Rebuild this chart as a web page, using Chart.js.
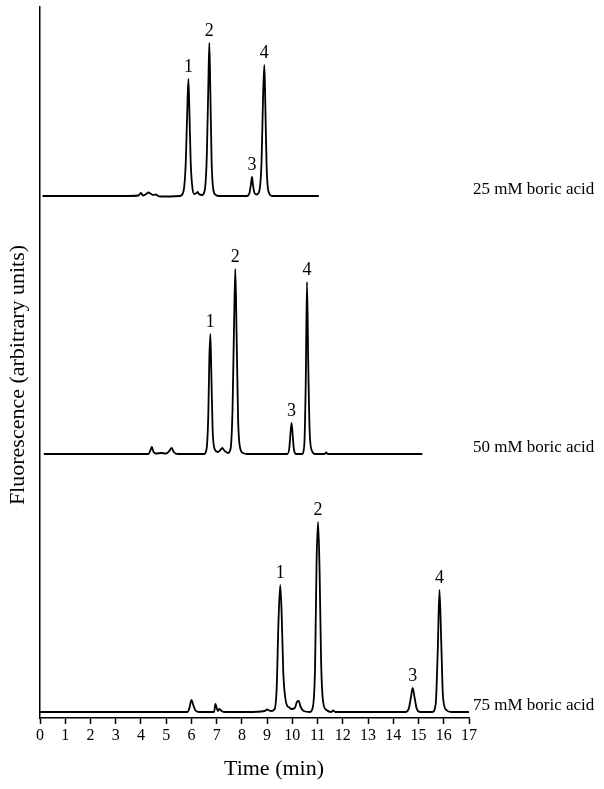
<!DOCTYPE html>
<html>
<head>
<meta charset="utf-8">
<script src="https://cdn.jsdelivr.net/npm/chart.js@4/dist/chart.umd.min.js"></script>
<style>
  html, body { margin: 0; padding: 0; background: #fff; }
  canvas { display: block; }
</style>
</head>
<body>
<canvas id="chart" width="604" height="789"></canvas>
<script>
// electropherograms: time (min) and fluorescence above baseline (arb. units)
const times25 = [0.1, 3.5, 3.9, 4.0, 4.08, 4.18, 4.3, 4.38, 4.48, 4.6, 4.68, 4.8,
  5.55, 5.68, 5.77, 5.83, 5.88, 5.92, 5.97, 6.04, 6.12,
  6.2, 6.25, 6.3, 6.42, 6.53, 6.61, 6.67, 6.71, 6.75, 6.8, 6.87, 6.97, 7.1,
  8.2, 8.3, 8.36, 8.4, 8.44, 8.5, 8.58, 8.68, 8.78, 8.84, 8.89, 8.93, 8.98, 9.05, 9.2, 11.05];
const signal25 = [0, 0, 0.5, 3, 0.5, 1.5, 3.5, 2.5, 1, 1.5, 0, -0.5,
  0, 4, 30, 80, 117, 85, 35, 8, 2,
  3, 4, 2, 1, 6, 40, 110, 153, 105, 35, 6, 1, 0,
  0, 3, 12, 19, 11, 3, 1.5, 4, 35, 100, 131, 90, 30, 5, 0, 0];

const times50 = [0.15, 4.3, 4.38, 4.43, 4.5, 4.6, 4.8, 5.0, 5.12, 5.22, 5.3, 5.45,
  6.5, 6.6, 6.67, 6.71, 6.75, 6.79, 6.84, 6.92, 7.05, 7.15, 7.22, 7.32, 7.45,
  7.55, 7.63, 7.69, 7.74, 7.79, 7.85, 7.93, 8.05, 8.2,
  9.8, 9.88, 9.93, 9.97, 10.01, 10.06, 10.15,
  10.38, 10.47, 10.53, 10.58, 10.63, 10.69, 10.78, 10.9,
  11.28, 11.34, 11.4, 15.15];
const signal50 = [0, 0, 4, 7, 2, 0.5, 1, 0.5, 3, 6, 2, 0,
  0, 5, 40, 95, 120, 80, 25, 5, 2, 4, 6, 3, 1,
  5, 45, 130, 185, 120, 35, 6, 1, 0,
  0, 6, 22, 31, 20, 5, 0,
  0, 8, 70, 172, 90, 20, 3, 0,
  0, 1.5, 0, 0];

const times75 = [0, 5.85, 5.93, 6.0, 6.06, 6.15, 6.3,
  6.9, 6.95, 6.99, 7.05, 7.1, 7.16, 7.22, 7.35,
  8.2, 8.9, 9.0, 9.08, 9.18, 9.3, 9.38, 9.45, 9.52, 9.58, 9.64, 9.72, 9.8, 9.86, 9.95,
  10.1, 10.18, 10.25, 10.33, 10.45,
  10.7, 10.82, 10.9, 10.96, 11.02, 11.08, 11.14, 11.22, 11.35,
  11.55, 11.62, 11.7,
  14.5, 14.62, 14.7, 14.77, 14.84, 14.92, 15.05,
  15.55, 15.68, 15.76, 15.83, 15.9, 15.97, 16.1, 16.3, 17.1];
const signal75 = [0, 0, 5, 12, 8, 2, 0,
  0, 8, 5, 1, 3, 2, 0.5, 0,
  0, 1, 2.5, 1.5, 1, 3, 25, 90, 127, 95, 40, 14, 6, 5, 3,
  4, 10, 11, 5, 1,
  0, 6, 45, 150, 190, 140, 50, 10, 2,
  0, 1.5, 0,
  0, 4, 15, 24, 15, 4, 0,
  0, 8, 60, 122, 70, 15, 2, 0, 0];

const peakNames = ['1', '2', '3', '4'];
const peakTimes25 = [5.88, 6.71, 8.4, 8.89];
const peakTimes50 = [6.75, 7.74, 9.97, 10.58];
const peakTimes75 = [9.52, 11.02, 14.77, 15.83];

const traceLabels = ['25 mM boric acid', '50 mM boric acid', '75 mM boric acid'];
const xTicks = [0, 1, 2, 3, 4, 5, 6, 7, 8, 9, 10, 11, 12, 13, 14, 15, 16, 17];

// vertical stacking of the three runs
const baselines = [522, 264, 6];
const serif = "'Liberation Serif', 'Times New Roman', serif";

const traces = [
  { t: times25, s: signal25, peaks: peakTimes25 },
  { t: times50, s: signal50, peaks: peakTimes50 },
  { t: times75, s: signal75, peaks: peakTimes75 }
];

const datasets = traces.map((tr, k) => ({
  label: traceLabels[k],
  data: tr.t.map((t, i) => ({ x: t, y: tr.s[i] + baselines[k] })),
  borderColor: '#000',
  borderWidth: 1.8,
  pointRadius: 0,
  fill: false,
  cubicInterpolationMode: 'monotone'
}));

const annotate = {
  id: 'annotate',
  afterDatasetsDraw(chart) {
    const { ctx, scales: { x, y } } = chart;
    ctx.save();
    ctx.fillStyle = '#000';
    traces.forEach((tr, k) => {
      // peak numbers above each peak top
      ctx.font = '18px ' + serif;
      ctx.textAlign = 'center';
      ctx.textBaseline = 'middle';
      tr.peaks.forEach((pt, j) => {
        const i = tr.t.indexOf(pt);
        const px = x.getPixelForValue(pt);
        const py = y.getPixelForValue(tr.s[i] + baselines[k]);
        ctx.fillText(peakNames[j], px, py - 12);
      });
      // run label at the right
      ctx.font = '17px ' + serif;
      ctx.textAlign = 'left';
      ctx.fillText(traceLabels[k], x.right + 4, y.getPixelForValue(baselines[k]) - 6);
    });
    // axis titles, both a bit off-centre in the original
    ctx.font = '22px ' + serif;
    ctx.textAlign = 'center';
    ctx.fillText('Time (min)', 274, 769);
    ctx.translate(18, 375);
    ctx.rotate(-Math.PI / 2);
    ctx.fillText('Fluorescence (arbitrary units)', 0, 0);
    ctx.restore();
  }
};

new Chart(document.getElementById('chart').getContext('2d'), {
  type: 'line',
  data: { datasets },
  options: {
    responsive: false,
    animation: false,
    layout: { padding: { top: 7, right: 135, left: 0, bottom: 0 } },
    plugins: { legend: { display: false }, tooltip: { enabled: false } },
    scales: {
      x: {
        type: 'linear', min: 0, max: 17,
        afterFit: s => { s.height = 71; },
        afterBuildTicks: s => { s.ticks = xTicks.map(v => ({ value: v })); },
        border: { color: '#000', width: 1.5 },
        grid: { drawOnChartArea: false, tickLength: 6, color: '#000', tickWidth: 1.5 },
        ticks: { color: '#000', padding: 2, font: { family: serif, size: 16 } }
      },
      y: {
        min: 0, max: 711,
        afterFit: s => { s.width = 40; },
        border: { color: '#000', width: 1.5 },
        grid: { drawOnChartArea: false, drawTicks: false },
        ticks: { display: false }
      }
    }
  },
  plugins: [annotate]
});
</script>
</body>
</html>
